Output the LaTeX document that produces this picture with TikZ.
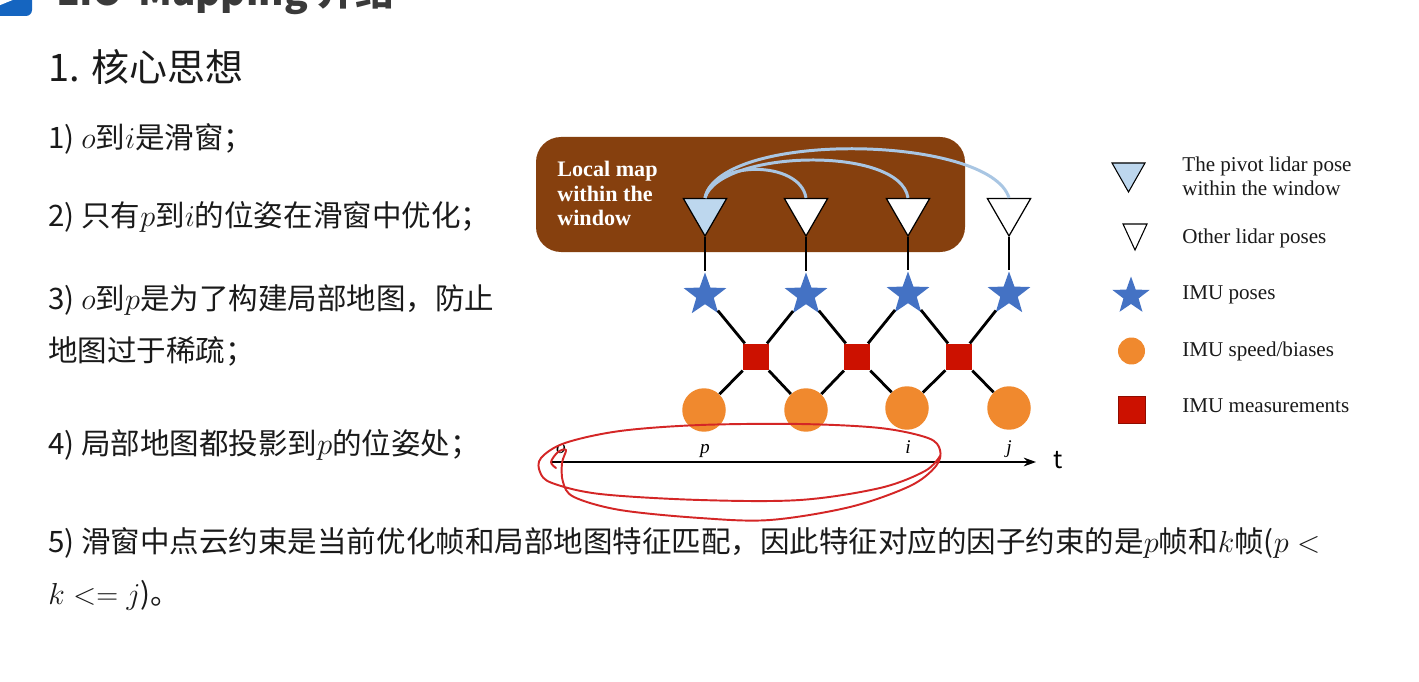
\documentclass[tikz,border=0pt]{standalone}
\usepackage{fontspec}
\usepackage{graphicx}
\setmainfont{Noto Sans CJK SC}
\newfontfamily\serifrm{Liberation Serif}
\usetikzlibrary{shapes.geometric,arrows.meta}

\definecolor{mapbrown}{HTML}{86400E}
\definecolor{pivotblue}{HTML}{BDD7EE}
\definecolor{imublue}{HTML}{4472C4}
\definecolor{speedorange}{HTML}{F0892E}
\definecolor{measred}{HTML}{CC1100}
\definecolor{arcblue}{HTML}{A9C6E3}
\definecolor{inkred}{HTML}{D42626}
\definecolor{textdark}{HTML}{1A1A1A}
\definecolor{titlegray}{HTML}{3A3A3A}
\definecolor{iconblue}{HTML}{1565C0}

\tikzset{
  lidar/.style={regular polygon, regular polygon sides=3, shape border rotate=180,
    draw=black, line width=0.7pt, minimum size=1.0cm, inner sep=0pt, fill=white},
  imupose/.style={star, star points=5, star point ratio=2.45, fill=imublue,
    minimum size=0.9cm, inner sep=0pt},
  imumeas/.style={rectangle, fill=measred, minimum size=0.53cm, inner sep=0pt},
  imuspeed/.style={circle, fill=speedorange, minimum size=0.87cm, inner sep=0pt},
  bond/.style={draw=black, line width=1.6pt},
  maparc/.style={draw=arcblue, line width=1.7pt},
  item/.style={anchor=base west, inner sep=0pt, text=textdark,
    font=\fontsize{16.8}{20}\selectfont},
  legtext/.style={anchor=base west, inner sep=0pt, text=textdark,
    font=\serifrm\fontsize{12}{14}\selectfont},
  axislab/.style={anchor=base, inner sep=0pt, font=\serifrm\itshape\fontsize{11}{13}\selectfont},
  boxtext/.style={anchor=base west, inner sep=0pt, text=white,
    font=\serifrm\bfseries\fontsize{12.6}{14}\selectfont},
}

\begin{document}
\begin{tikzpicture}[x=0.02cm, y=-0.02cm]
\useasboundingbox (0,0) rectangle (1419,682);
\clip (0,0) rectangle (1419,682);
\fill[white] (0,0) rectangle (1419,682);

% slide header (runs past the top edge)
\fill[iconblue, rounded corners=0.12cm] (-12,-25) rectangle (32,16);
\fill[white] (-12,-5) -- (25,-5) -- (-12,10) -- cycle;
\node[anchor=base west, inner sep=0pt, text=titlegray,
  font=\bfseries\fontsize{22}{26}\selectfont] (title) at (56,6) {LIO-Mapping 介绍};

% bullet text
\node[anchor=base west, inner sep=0pt, text=textdark,
  font=\fontsize{21.6}{26}\selectfont] (head) at (48,82) {1. 核心思想};
\node[item] (it1) at (48,149) {1) $o$到$i$是滑窗；};
\node[item] (it2) at (48,227) {2) 只有$p$到$i$的位姿在滑窗中优化；};
\node[item] (it3) at (48,309) {3) $o$到$p$是为了构建局部地图，防止};
\node[item] (it3b) at (48,361) {地图过于稀疏；};
\node[item] (it4) at (48,454) {4) 局部地图都投影到$p$的位姿处；};
\node[item] (it5) at (48,552) {5) 滑窗中点云约束是当前优化帧和局部地图特征匹配，因此特征对应的因子约束的是$p$帧和$k$帧($p<$};
\node[item] (it5b) at (48,604) {$k <= j$)。};

% local map box
\fill[mapbrown, rounded corners=0.5cm] (536,137) rectangle (965,252);
\node[boxtext] (bx1) at (557,177) {Local map};
\node[boxtext] (bx2) at (557,202) {within the};
\node[boxtext] (bx3) at (557,226) {window};

% lidar poses
\node[lidar, fill=pivotblue] (L1) at (705,211) {};
\node[lidar] (L2) at (806,211) {};
\node[lidar] (L3) at (908,211) {};
\node[lidar] (L4) at (1009,211) {};

% imu poses
\node[imupose] (S1) at (705,295) {};
\node[imupose] (S2) at (806,295) {};
\node[imupose] (S3) at (908,294) {};
\node[imupose] (S4) at (1009,294) {};

% imu measurements
\node[imumeas] (M1) at (756,357) {};
\node[imumeas] (M2) at (857,357) {};
\node[imumeas] (M3) at (959,357) {};

% imu speed / biases
\node[imuspeed] (V1) at (704,410) {};
\node[imuspeed] (V2) at (806,410) {};
\node[imuspeed] (V3) at (907,408) {};
\node[imuspeed] (V4) at (1009,408) {};

% factor edges
\foreach \k in {1,...,4} \draw[bond] (L\k) -- (S\k);
\foreach \k/\n in {1/2,2/3,3/4} {
  \draw[bond] (S\k) -- (M\k);
  \draw[bond] (M\k) -- (S\n);
  \draw[bond] (M\k) -- (V\k);
  \draw[bond] (M\k) -- (V\n);
}

% local map links from the pivot pose
\draw[maparc] (L1.north) .. controls +(15,-68) and +(-19,-63) .. (L4.north);
\draw[maparc] (L1.north) .. controls +(15,-48) and +(-8,-53) .. (L3.north);
\draw[maparc] (L1.north) .. controls +(7,-38) and +(-6,-38) .. (L2.north);

% time axis
\coordinate (t0) at (551,462);
\coordinate (t1) at (1036,462);
\draw[line width=0.9pt, -{Stealth[length=7pt,width=5pt]}] (t0) -- (t1);
\node[anchor=base west, inner sep=0pt, font=\fontsize{14}{16}\selectfont] (tl) at (1053,468) {t};
\node[axislab] (lo) at (561,453) {o};
\node[axislab] (lp) at (705,453) {p};
\node[axislab] (li) at (908,453) {i};
\node[axislab] (lj) at (1009,453) {j};

% hand-drawn loop
\draw[inkred, line width=1.1pt, line join=round, line cap=round] plot[smooth, tension=0.55] coordinates {
  (556,468) (551,462) (558,452) (566,450) (562,463) (563,482) (574,497)
  (620,510) (700,518) (770,520) (850,507) (910,486) (936,466) (940,450)
  (928,438) (880,428) (800,424) (700,425) (620,431) (565,443) (541,458)
  (540,472) (552,483) (600,494) (700,500) (800,500) (880,488) (925,471) (940,456)};

% legend
\draw[line width=0.6pt, fill=pivotblue] (1112,163) -- (1145,163) -- (1128.5,192) -- cycle;
\draw[line width=0.6pt, fill=white] (1123,224) -- (1147,224) -- (1135,250) -- cycle;
\node[imupose, minimum size=0.78cm] (gS) at (1131,296) {};
\node[imuspeed, minimum size=0.54cm] (gV) at (1131.5,351) {};
\node[imumeas, minimum size=0.53cm, draw=measred!70!black, line width=0.3pt] (gM) at (1131.5,410) {};
\node[legtext] (g1) at (1182,172) {The pivot lidar pose};
\node[legtext] (g1b) at (1182,195) {within the window};
\node[legtext] (g2) at (1182,243) {Other lidar poses};
\node[legtext] (g3) at (1182,299) {IMU poses};
\node[legtext] (g4) at (1182,356) {IMU speed/biases};
\node[legtext] (g5) at (1182,412) {IMU measurements};
\end{tikzpicture}
\end{document}
